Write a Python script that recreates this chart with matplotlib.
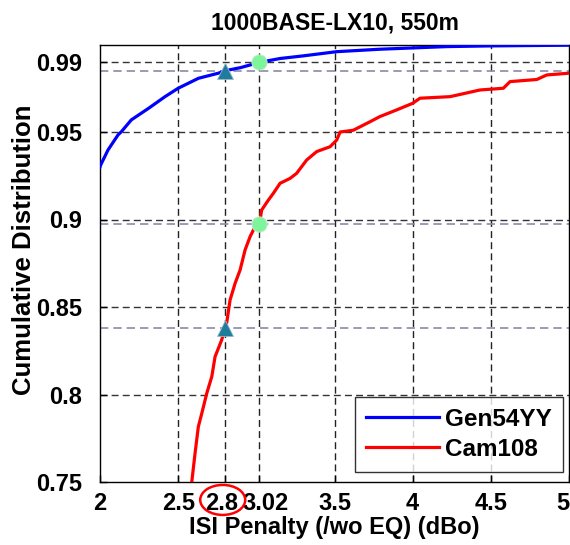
import matplotlib
matplotlib.use("Agg")
import matplotlib.pyplot as plt
from matplotlib.patches import Ellipse
import matplotlib.transforms as mtransforms

plt.rcParams['font.family'] = ['Liberation Sans', 'DejaVu Sans']
plt.rcParams['font.weight'] = 'bold'

# ---- data ----
gen_x = [2.0, 2.004, 2.051, 2.115, 2.137, 2.2, 2.31, 2.416, 2.5, 2.63, 2.757, 2.8, 2.9,
         3.02, 3.152, 3.3, 3.514, 3.79, 4.218, 4.5, 5.0]
gen_y = [0.930, 0.9311, 0.9397, 0.9483, 0.9502, 0.9569, 0.9635, 0.9702, 0.975, 0.9807, 0.9836,
         0.985, 0.9868, 0.9898, 0.992, 0.9935, 0.9959, 0.9973, 0.9988, 0.9992, 0.9996]

cam_x = [2.587, 2.608, 2.629, 2.651, 2.683, 2.715, 2.736, 2.778, 2.81, 2.832, 2.864, 2.896,
         2.928, 2.96, 2.992, 3.02, 3.034, 3.077, 3.109, 3.152, 3.216, 3.258, 3.322, 3.386, 3.472,
         3.514, 3.536, 3.62, 3.728, 3.79, 3.897, 4.0, 4.047, 4.239, 4.43, 4.58, 4.623, 4.794,
         4.858, 5.0]
cam_y = [0.75, 0.7664, 0.7816, 0.7892, 0.8007, 0.8102, 0.8216, 0.8311, 0.8407, 0.854, 0.8635,
         0.8711, 0.8826, 0.8902, 0.8959, 0.8975, 0.9054, 0.9111, 0.915, 0.9207, 0.9235, 0.9264,
         0.934, 0.9388, 0.9416, 0.9454, 0.950, 0.951, 0.9559, 0.9588, 0.9626, 0.9664, 0.9693,
         0.9702, 0.974, 0.975, 0.9788, 0.980, 0.9826, 0.9836]

series_names = ['Gen54YY', 'Cam108']

x_ticks = [2, 2.5, 2.8, 3.02, 3.5, 4, 4.5, 5]
x_tick_labels = ['2', '2.5', '2.8', '3.02', '3.5', '4', '4.5', '5']
y_ticks = [0.75, 0.8, 0.85, 0.9, 0.95, 0.99]
y_tick_labels = ['0.75', '0.8', '0.85', '0.9', '0.95', '0.99']

ref_levels = [0.985, 0.8975, 0.838]          # grey dashed reference lines
tri_x = [2.8, 2.8]
tri_y = [0.985, 0.838]
circ_x = [3.02, 3.02]
circ_y = [0.99, 0.8975]

# ---- figure ----
fig = plt.figure(figsize=(5.7, 5.45), dpi=100)
ax = fig.add_axes([100/570, 1-482/545, 469/570, 437.5/545])
ax.set_xlim(2, 5)
ax.set_ylim(0.75, 1.0)

# grid
for xt in x_ticks[1:-1]:
    ax.axvline(xt, color='#222222', lw=1.0, ls=(0, (5, 3)), zorder=1)
for yt in y_ticks[1:]:
    ax.axhline(yt, color='#333333', lw=1.0, ls=(0, (5, 3)), zorder=1)
for yl in ref_levels:
    ax.axhline(yl, color='#8a8aaa', lw=1.2, ls=(0, (5, 3)), zorder=1)

ax.plot(gen_x, gen_y, color='#0000ff', lw=2.3, label=series_names[0], zorder=3)
ax.plot(cam_x, cam_y, color='#ff0000', lw=2.3, label=series_names[1], zorder=3)

ax.plot(tri_x, tri_y, ls='none', marker='^', ms=11, color='#1f7c9c',
        markeredgecolor='#9ab8c8', markeredgewidth=0.6, zorder=4)
ax.plot(circ_x, circ_y, ls='none', marker='o', ms=11, color='#7ef59b',
        markeredgecolor='#c8e8d0', markeredgewidth=0.6, zorder=4)

ax.set_xticks(x_ticks)
ax.set_xticklabels(x_tick_labels)
ax.set_yticks(y_ticks)
ax.set_yticklabels(y_tick_labels)
ax.tick_params(direction='in', length=5, width=1, labelsize=17, top=False, right=False)
ax.tick_params(axis='x', pad=7)
ax.tick_params(axis='y', pad=13)
for lab in ax.get_xticklabels() + ax.get_yticklabels():
    lab.set_fontweight('bold')

def shift(label, dx_px):
    label.set_transform(label.get_transform() +
                        mtransforms.ScaledTranslation(dx_px/100, 0, fig.dpi_scale_trans))

xl = ax.get_xticklabels()
shift(xl[2], -3)   # 2.8
shift(xl[3], 6)    # 3.02
shift(xl[-1], -6)  # 5
for sp in ax.spines.values():
    sp.set_linewidth(1.0)
    sp.set_color('black')

ax.set_title('1000BASE-LX10, 550m', fontsize=16.5, fontweight='bold', pad=11)
ax.set_xlabel('ISI Penalty (/wo EQ) (dBo)', fontsize=17, fontweight='bold', labelpad=1)
ax.set_ylabel('Cumulative Distribution', fontsize=18.5, fontweight='bold')
ax.yaxis.set_label_coords(-0.137, 0.53)

leg = ax.legend(loc='lower right', bbox_to_anchor=(0.987, 0.023), fontsize=17.5,
                handlelength=3.0, frameon=True, fancybox=False, borderpad=0.45,
                labelspacing=0.3, handletextpad=0.25, borderaxespad=0)
leg.get_frame().set_edgecolor('black')
leg.get_frame().set_linewidth(1.0)
for t in leg.get_texts():
    t.set_fontweight('bold')

# red ellipse around the 2.8 tick label
trans = mtransforms.blended_transform_factory(ax.transData, ax.transAxes)
ell = Ellipse((2.785, -0.041), width=45/156.3, height=30/437.5, transform=trans,
              fill=False, edgecolor='#ff0000', lw=1.8, clip_on=False, zorder=5)
ax.add_patch(ell)

fig.savefig('out.png', dpi=100)
